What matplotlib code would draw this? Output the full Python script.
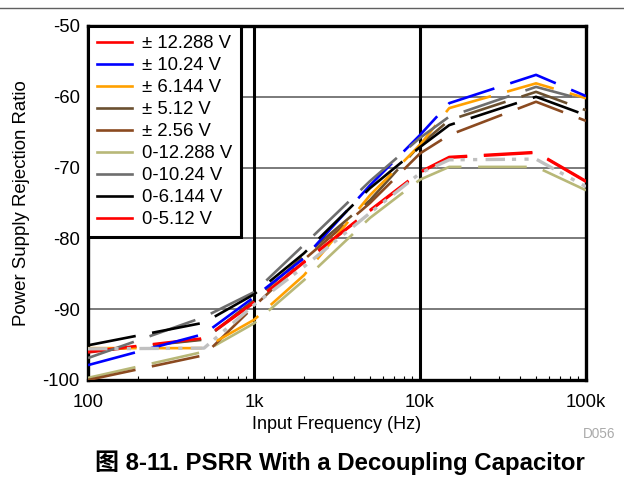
import matplotlib
matplotlib.use("Agg")
import matplotlib.pyplot as plt
from matplotlib.lines import Line2D

plt.rcParams['font.family'] = ['Liberation Sans', 'Noto Sans CJK SC', 'DejaVu Sans']
plt.rcParams['lines.scale_dashes'] = False

freq = [100, 500, 1000, 2000, 5000, 10000, 15000, 50000, 100000]

labels = ["± 12.288 V", "± 10.24 V", "± 6.144 V", "± 5.12 V", "± 2.56 V",
          "0-12.288 V", "0-10.24 V", "0-6.144 V", "0-5.12 V"]
colors = ["#ff0000", "#0000ff", "#ffa000", "#6b5030", "#8b4a20",
          "#b8b878", "#6e6e6e", "#000000", "#ff0000"]

psrr_pm12288 = [-96.0, -94.1, -89.0, -83.3, -76.0, -70.6, -68.5, -67.8, -71.9]
psrr_pm1024 = [-97.9, -93.5, -88.3, -82.8, -72.5, -65.4, -60.9, -56.9, -59.9]
psrr_pm6144 = [-95.5, -95.5, -91.5, -85.2, -73.9, -66.8, -61.6, -58.1, -60.2]
psrr_pm512 = [-96.0, -94.3, -88.7, -82.5, -74.6, -66.8, -63.3, -59.3, -61.9]
psrr_pm256 = [-100.0, -96.5, -89.6, -83.0, -75.0, -68.0, -65.4, -60.7, -63.4]
psrr_0_12288 = [-99.7, -96.0, -92.0, -85.9, -77.1, -71.7, -69.9, -69.9, -73.2]
psrr_0_1024 = [-96.9, -91.1, -87.6, -80.9, -71.9, -65.8, -62.8, -58.6, -60.5]
psrr_0_6144 = [-95.1, -91.9, -87.9, -82.1, -72.9, -67.1, -64.0, -60.0, -62.6]
psrr_0_512 = [-96.1, -94.2, -89.1, -83.4, -76.1, -70.7, -68.6, -67.9, -72.0]
psrr_extra = [-95.6, -95.5, -89.4, -84.0, -76.4, -70.8, -68.9, -68.8, -72.7]

series = [psrr_pm12288, psrr_pm1024, psrr_pm6144, psrr_pm512, psrr_pm256,
          psrr_0_12288, psrr_0_1024, psrr_0_6144, psrr_0_512]

fig = plt.figure(figsize=(6.24, 4.91), dpi=100)
ax = fig.add_axes([88/624, 1-380/491, (586-88)/624, (380-26)/491])

ax.set_xscale('log')
ax.set_xlim(100, 100000)
ax.set_ylim(-100, -50)

# grid
for yv in [-60, -70, -80, -90]:
    ax.axhline(yv, color='#707070', lw=1.3, zorder=1)
for xv in [1000, 10000]:
    ax.axvline(xv, color='black', lw=2.2, zorder=1)

dash = (35, 12)
draw_order = [8, 5, 4, 3, 2, 0, 1, 6, 7]
for i in draw_order:
    ln, = ax.plot(freq, series[i], color=colors[i], lw=1.9, zorder=3)
    ln.set_dashes(dash)
ln, = ax.plot(freq, psrr_extra, color='#c0c0c0', lw=2.4, zorder=3.5)
ln.set_dashes((14, 5, 3, 6, 3, 6))

for s in ax.spines.values():
    s.set_linewidth(2.4)

ax.set_yticks([-100, -90, -80, -70, -60, -50])
ax.set_yticklabels(['-100', '-90', '-80', '-70', '-60', '-50'], fontsize=13.3)
ax.set_xticks([100, 1000, 10000, 100000])
ax.set_xticklabels(['100', '1k', '10k', '100k'], fontsize=13.3)
ax.tick_params(axis='y', which='major', length=0, pad=6)
ax.tick_params(axis='x', which='major', length=0, pad=10)
ax.tick_params(axis='x', which='minor', direction='in', length=3, width=0.8, top=False)
ax.tick_params(axis='x', which='minor', labelbottom=False)

ax.set_xlabel('Input Frequency (Hz)', fontsize=13, labelpad=4)
ax.set_ylabel('Power Supply Rejection Ratio', fontsize=13.4, labelpad=9)

handles = [Line2D([0], [0], color=c, lw=1.9) for c in colors]
leg = ax.legend(handles, labels, loc='upper left', bbox_to_anchor=(0, 1),
                fontsize=13.3, frameon=True, fancybox=False, framealpha=1,
                edgecolor='black', borderaxespad=0, handlelength=1.9,
                handletextpad=0.5, labelspacing=0.27, borderpad=0.5)
leg.get_frame().set_linewidth(2.2)
leg.set_zorder(5)

fig.add_artist(Line2D([0, 1], [1-8/491, 1-8/491], color='#606060', lw=1.0))
fig.text(615/624, 1-434/491, 'D056', color='#aaaaaa', fontsize=9.8, ha='right', va='center')
fig.text(340/624, 1-463/491, '图 8-11. PSRR With a Decoupling Capacitor',
         fontsize=17.3, fontweight='bold', ha='center', va='center')

fig.savefig('out.png', dpi=100)
